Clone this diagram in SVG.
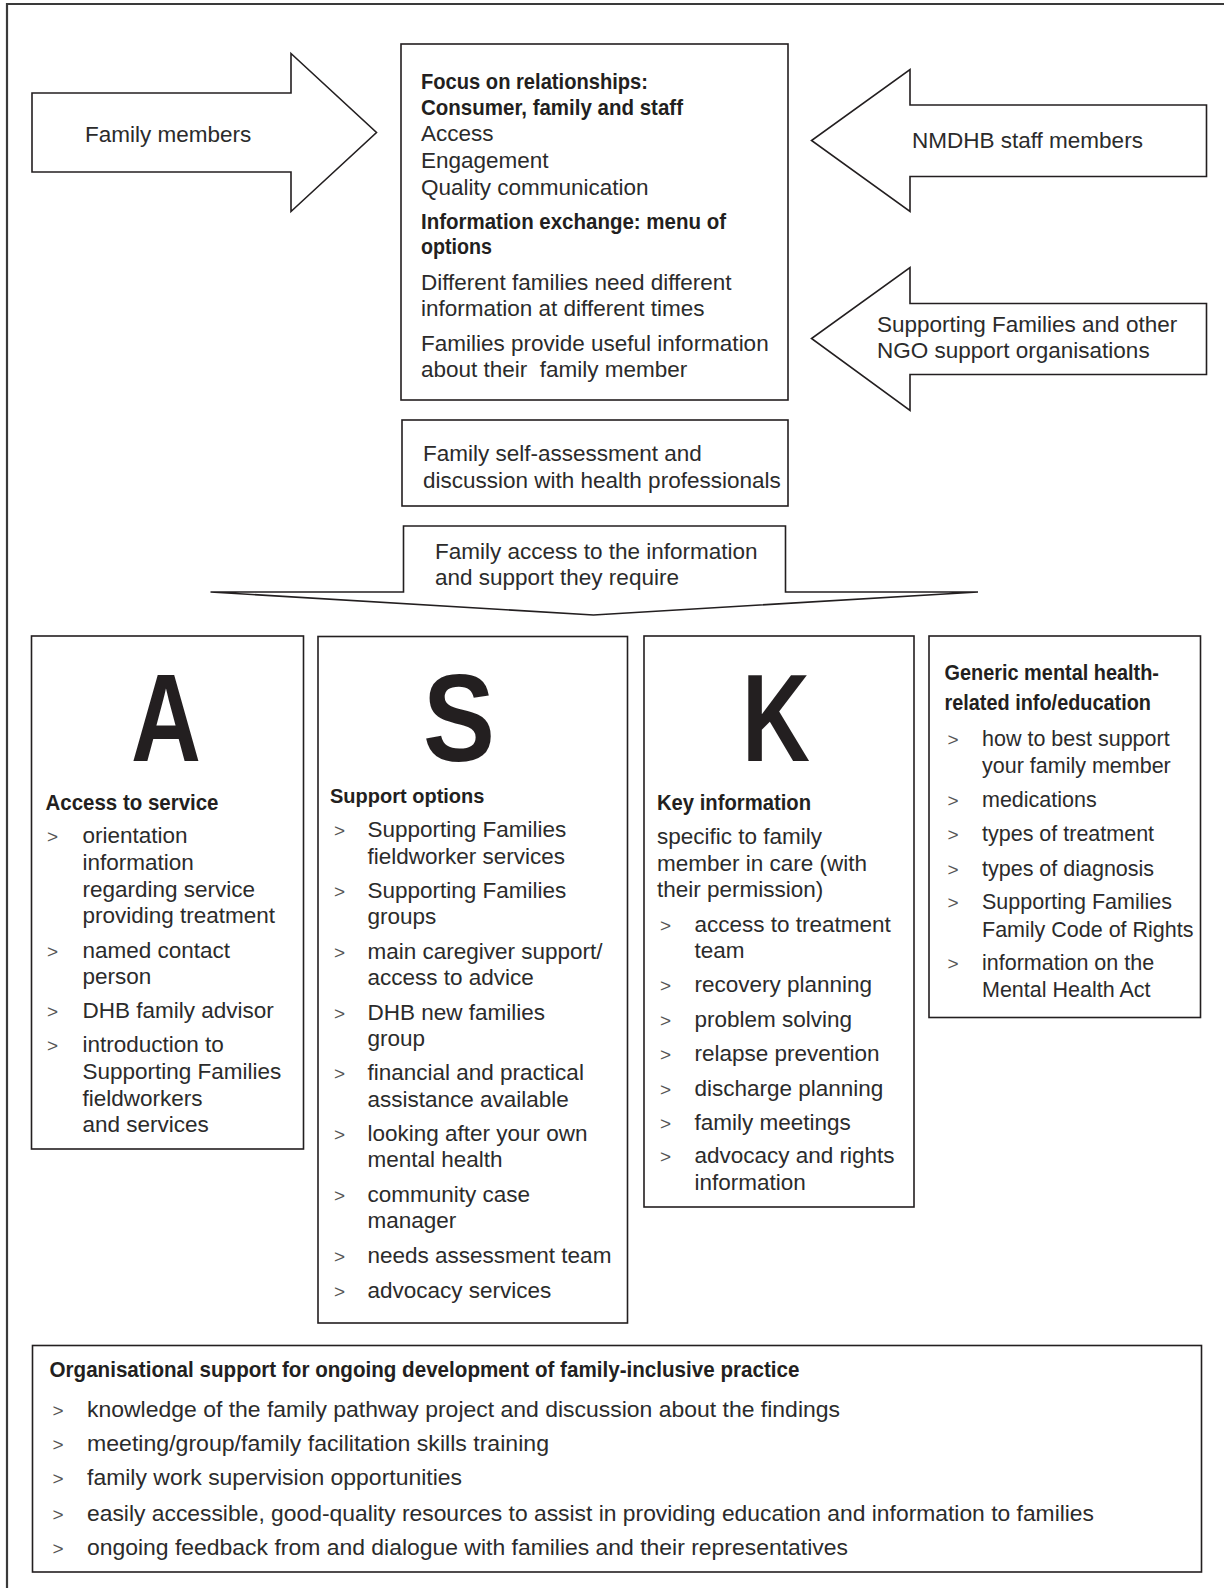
<svg xmlns="http://www.w3.org/2000/svg" width="1224" height="1588" viewBox="0 0 1224 1588">
<style>
.box{fill:#fff;stroke:#231f20;stroke-width:1.6}
.frame{fill:none;stroke:#3a3a3a;stroke-width:2.2}
text{font-family:"Liberation Sans",Arial,sans-serif;fill:#2b2b2b}
.t{font-size:22.5px}
.b{font-size:22px;font-weight:bold;fill:#231f20}
.g{font-size:19px;fill:#555}
.big{font-size:124px;font-weight:bold;text-anchor:middle;fill:#231f20}
.n{font-size:21.5px}
</style>
<rect width="1224" height="1588" fill="#fff"/>
<path class="frame" d="M7,1588 V4 H1224"/>

<g id="connectors">
<path id="arrow-family" class="box" d="M32,93 H291 V53.5 L376.5,132.5 L291,211.5 V172 H32 Z"/>
<path id="arrow-nmdhb" class="box" d="M1206.5,105 H910 V69.5 L811.5,140.5 L910,211.5 V176.5 H1206.5 Z"/>
<path id="arrow-sf" class="box" d="M1206.5,303.5 H910 V267.5 L811.5,338.5 L910,410.5 V374.5 H1206.5 Z"/>
<path id="arrow-access" class="box" d="M403.5,526 H785.5 V592 H978 L593.5,615 L210.5,592 H403.5 Z"/>
</g>

<g id="family-members">
<text class="t" x="85" y="141.5">Family members</text>
</g>
<g id="nmdhb-staff">
<text class="t" x="912" y="148">NMDHB staff members</text>
</g>
<g id="supporting-families-ngo">
<text class="t" x="877" y="331.5">Supporting Families and other</text>
<text class="t" x="877" y="358">NGO support organisations</text>
</g>

<g id="focus-box">
<rect class="box" x="401" y="44" width="387" height="356"/>
<text class="b" x="421" y="89" textLength="227" lengthAdjust="spacingAndGlyphs">Focus on relationships:</text>
<text class="b" x="421" y="115" textLength="262" lengthAdjust="spacingAndGlyphs">Consumer, family and staff</text>
<text class="t" x="421" y="141">Access</text>
<text class="t" x="421" y="168">Engagement</text>
<text class="t" x="421" y="195">Quality communication</text>
<text class="b" x="421" y="229" textLength="305" lengthAdjust="spacingAndGlyphs">Information exchange: menu of</text>
<text class="b" x="421" y="254" textLength="71" lengthAdjust="spacingAndGlyphs">options</text>
<text class="t" x="421" y="290">Different families need different</text>
<text class="t" x="421" y="316">information at different times</text>
<text class="t" x="421" y="351">Families provide useful information</text>
<text class="t" x="421" y="377">about their&#160; family member</text>
</g>

<g id="self-assessment">
<rect class="box" x="402" y="420" width="386" height="86"/>
<text class="t" x="423" y="461">Family self-assessment and</text>
<text class="t" x="423" y="487.5">discussion with health professionals</text>
</g>

<g id="family-access">
<text class="t" x="435" y="559">Family access to the information</text>
<text class="t" x="435" y="585">and support they require</text>
</g>

<g id="col-a">
<rect class="box" x="31.5" y="636" width="272" height="513"/>
<text class="big" x="166" y="761" textLength="70" lengthAdjust="spacingAndGlyphs">A</text>
<text class="b" x="45.5" y="810" textLength="173" lengthAdjust="spacingAndGlyphs">Access to service</text>
<text class="g" x="47" y="843">&gt;</text>
<text class="t" x="82.5" y="843">orientation</text>
<text class="t" x="82.5" y="869.5">information</text>
<text class="t" x="82.5" y="896.5">regarding service</text>
<text class="t" x="82.5" y="923">providing treatment</text>
<text class="g" x="47" y="957.5">&gt;</text>
<text class="t" x="82.5" y="957.5">named contact</text>
<text class="t" x="82.5" y="984">person</text>
<text class="g" x="47" y="1017.5">&gt;</text>
<text class="t" x="82.5" y="1017.5">DHB family advisor</text>
<text class="g" x="47" y="1052">&gt;</text>
<text class="t" x="82.5" y="1052">introduction to</text>
<text class="t" x="82.5" y="1079">Supporting Families</text>
<text class="t" x="82.5" y="1105.5">fieldworkers</text>
<text class="t" x="82.5" y="1132">and services</text>
</g>

<g id="col-s">
<rect class="box" x="318" y="636.5" width="309.5" height="686.5"/>
<text class="big" x="459" y="761" textLength="72" lengthAdjust="spacingAndGlyphs">S</text>
<text class="b" x="330" y="803" style="font-size:20px">Support options</text>
<text class="g" x="334" y="837">&gt;</text>
<text class="t" x="367.5" y="837">Supporting Families</text>
<text class="t" x="367.5" y="863.5">fieldworker services</text>
<text class="g" x="334" y="898">&gt;</text>
<text class="t" x="367.5" y="898">Supporting Families</text>
<text class="t" x="367.5" y="924">groups</text>
<text class="g" x="334" y="958.5">&gt;</text>
<text class="t" x="367.5" y="958.5">main caregiver support/</text>
<text class="t" x="367.5" y="985">access to advice</text>
<text class="g" x="334" y="1019.5">&gt;</text>
<text class="t" x="367.5" y="1019.5">DHB new families</text>
<text class="t" x="367.5" y="1046">group</text>
<text class="g" x="334" y="1080">&gt;</text>
<text class="t" x="367.5" y="1080">financial and practical</text>
<text class="t" x="367.5" y="1106.5">assistance available</text>
<text class="g" x="334" y="1141">&gt;</text>
<text class="t" x="367.5" y="1141">looking after your own</text>
<text class="t" x="367.5" y="1167">mental health</text>
<text class="g" x="334" y="1201.5">&gt;</text>
<text class="t" x="367.5" y="1201.5">community case</text>
<text class="t" x="367.5" y="1228">manager</text>
<text class="g" x="334" y="1262.5">&gt;</text>
<text class="t" x="367.5" y="1262.5">needs assessment team</text>
<text class="g" x="334" y="1298">&gt;</text>
<text class="t" x="367.5" y="1298">advocacy services</text>
</g>

<g id="col-k">
<rect class="box" x="644" y="636" width="270" height="571"/>
<text class="big" x="776" y="761" textLength="68" lengthAdjust="spacingAndGlyphs">K</text>
<text class="b" x="657" y="810" textLength="154" lengthAdjust="spacingAndGlyphs">Key information</text>
<text class="t" x="657" y="844">specific to family</text>
<text class="t" x="657" y="870.5">member in care (with</text>
<text class="t" x="657" y="897">their permission)</text>
<text class="g" x="660" y="931.5">&gt;</text>
<text class="t" x="694.5" y="931.5">access to treatment</text>
<text class="t" x="694.5" y="957.5">team</text>
<text class="g" x="660" y="992">&gt;</text>
<text class="t" x="694.5" y="992">recovery planning</text>
<text class="g" x="660" y="1026.5">&gt;</text>
<text class="t" x="694.5" y="1026.5">problem solving</text>
<text class="g" x="660" y="1061">&gt;</text>
<text class="t" x="694.5" y="1061">relapse prevention</text>
<text class="g" x="660" y="1095.5">&gt;</text>
<text class="t" x="694.5" y="1095.5">discharge planning</text>
<text class="g" x="660" y="1130">&gt;</text>
<text class="t" x="694.5" y="1130">family meetings</text>
<text class="g" x="660" y="1163">&gt;</text>
<text class="t" x="694.5" y="1163">advocacy and rights</text>
<text class="t" x="694.5" y="1189.5">information</text>
</g>

<g id="col-generic">
<rect class="box" x="929" y="636" width="271.5" height="381.5"/>
<text class="b" x="944.5" y="679.5" textLength="214.5" lengthAdjust="spacingAndGlyphs">Generic mental health-</text>
<text class="b" x="944.5" y="709.5" textLength="206.5" lengthAdjust="spacingAndGlyphs">related info/education</text>
<text class="g" x="947.5" y="746">&gt;</text>
<text class="n" x="982" y="746">how to best support</text>
<text class="n" x="982" y="772.5">your family member</text>
<text class="g" x="947.5" y="807">&gt;</text>
<text class="n" x="982" y="807">medications</text>
<text class="g" x="947.5" y="841">&gt;</text>
<text class="n" x="982" y="841">types of treatment</text>
<text class="g" x="947.5" y="875.5">&gt;</text>
<text class="n" x="982" y="875.5">types of diagnosis</text>
<text class="g" x="947.5" y="909">&gt;</text>
<text class="n" x="982" y="909">Supporting Families</text>
<text class="n" x="982" y="936.5">Family Code of Rights</text>
<text class="g" x="947.5" y="970">&gt;</text>
<text class="n" x="982" y="970">information on the</text>
<text class="n" x="982" y="997">Mental Health Act</text>
</g>

<g id="org-support">
<rect class="box" x="32.5" y="1345.5" width="1169" height="226.5"/>
<text class="b" x="49.5" y="1377" textLength="750" lengthAdjust="spacingAndGlyphs">Organisational support for ongoing development of family-inclusive practice</text>
<text class="g" x="52.5" y="1416.5">&gt;</text>
<text class="n" x="87" y="1416.5" textLength="753" lengthAdjust="spacingAndGlyphs">knowledge of the family pathway project and discussion about the findings</text>
<text class="g" x="52.5" y="1451">&gt;</text>
<text class="n" x="87" y="1451" textLength="462" lengthAdjust="spacingAndGlyphs">meeting/group/family facilitation skills training</text>
<text class="g" x="52.5" y="1485">&gt;</text>
<text class="n" x="87" y="1485" textLength="375" lengthAdjust="spacingAndGlyphs">family work supervision opportunities</text>
<text class="g" x="52.5" y="1520.5">&gt;</text>
<text class="n" x="87" y="1520.5" textLength="1007" lengthAdjust="spacingAndGlyphs">easily accessible, good-quality resources to assist in providing education and information to families</text>
<text class="g" x="52.5" y="1555">&gt;</text>
<text class="n" x="87" y="1555" textLength="761" lengthAdjust="spacingAndGlyphs">ongoing feedback from and dialogue with families and their representatives</text>
</g>
</svg>
